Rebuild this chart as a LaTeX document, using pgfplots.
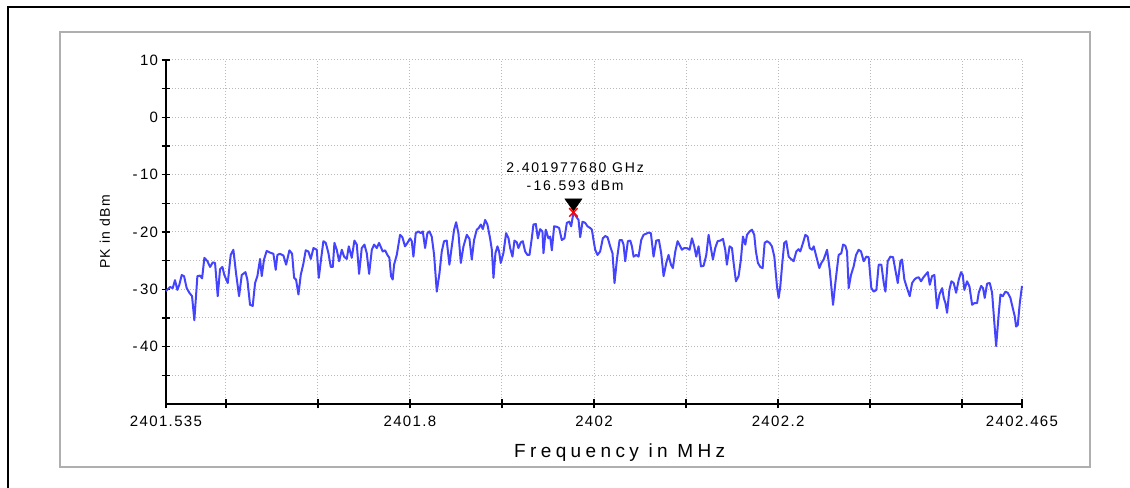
\documentclass[border=0pt]{standalone}
\usepackage{pgfplots}
\pgfplotsset{compat=1.18}
\usepackage{pgfplotstable}
\usepackage{fontspec}
\setmainfont{Liberation Sans}
\newfontfamily\tickfont{Liberation Sans}[LetterSpace=9]
\newfontfamily\labfont{Liberation Sans}[LetterSpace=23]
\newfontfamily\annfont{Liberation Sans}[LetterSpace=13]
\definecolor{tracec}{RGB}{68,68,255}
\definecolor{framegray}{RGB}{175,175,175}
\definecolor{gridgray}{RGB}{185,185,185}
\pgfdeclareplotmark{dtri}{%
  \pgfpathmoveto{\pgfpoint{-8.5bp}{13.5bp}}%
  \pgfpathlineto{\pgfpoint{8.5bp}{13.5bp}}%
  \pgfpathlineto{\pgfpoint{0bp}{1.5bp}}%
  \pgfpathclose\pgfusepathqfillstroke}

\pgfplotstableread{
f p
2401.5350 -30.3
2401.5394 -29.6
2401.5423 -29.8
2401.5448 -28.4
2401.5473 -30.1
2401.5495 -29.2
2401.5521 -27.5
2401.5546 -27.7
2401.5575 -29.8
2401.5604 -30.6
2401.5633 -31.2
2401.5658 -35.4
2401.5691 -27.7
2401.5720 -27.6
2401.5742 -28.1
2401.5767 -24.5
2401.5800 -25.1
2401.5829 -26.1
2401.5858 -25.3
2401.5883 -25.4
2401.5912 -31.2
2401.5937 -26.5
2401.5963 -26.1
2401.5984 -27.5
2401.6021 -28.9
2401.6053 -24.0
2401.6082 -23.1
2401.6111 -27.2
2401.6144 -31.2
2401.6173 -27.5
2401.6213 -27.0
2401.6234 -28.3
2401.6263 -32.7
2401.6292 -32.9
2401.6318 -28.9
2401.6343 -27.7
2401.6372 -24.7
2401.6390 -27.7
2401.6415 -24.8
2401.6444 -23.3
2401.6481 -23.6
2401.6517 -23.8
2401.6542 -26.6
2401.6560 -24.0
2401.6589 -23.8
2401.6626 -24.1
2401.6655 -25.7
2401.6691 -23.2
2401.6720 -23.8
2401.6742 -28.0
2401.6763 -28.3
2401.6789 -30.9
2401.6814 -27.5
2401.6843 -25.5
2401.6868 -23.2
2401.6897 -23.4
2401.6923 -24.7
2401.6952 -22.8
2401.6988 -23.1
2401.7010 -28.0
2401.7035 -24.7
2401.7060 -21.6
2401.7086 -21.9
2401.7115 -23.7
2401.7140 -26.1
2401.7162 -26.1
2401.7180 -21.9
2401.7205 -23.1
2401.7231 -25.1
2401.7260 -23.1
2401.7285 -24.3
2401.7314 -24.7
2401.7336 -22.5
2401.7368 -24.5
2401.7397 -21.5
2401.7423 -22.2
2401.7448 -27.3
2401.7477 -22.8
2401.7506 -22.2
2401.7531 -23.7
2401.7557 -27.3
2401.7586 -23.1
2401.7611 -22.2
2401.7640 -22.8
2401.7665 -21.9
2401.7705 -23.4
2401.7730 -23.2
2401.7755 -24.0
2401.7777 -24.5
2401.7795 -27.7
2401.7813 -28.3
2401.7828 -25.7
2401.7857 -24.0
2401.7893 -20.5
2401.7918 -20.9
2401.7947 -22.5
2401.7973 -21.9
2401.8002 -21.1
2401.8020 -21.6
2401.8038 -24.3
2401.8063 -20.2
2401.8092 -19.9
2401.8118 -20.2
2401.8140 -19.9
2401.8165 -22.8
2401.8190 -20.2
2401.8212 -19.9
2401.8237 -20.8
2401.8263 -24.0
2401.8292 -30.4
2401.8321 -27.2
2401.8346 -23.4
2401.8371 -21.6
2401.8400 -21.5
2401.8429 -25.7
2401.8455 -22.5
2401.8480 -19.6
2401.8502 -18.3
2401.8527 -20.2
2401.8553 -25.4
2401.8582 -22.5
2401.8618 -20.5
2401.8647 -21.2
2401.8672 -24.8
2401.8697 -21.4
2401.8726 -19.6
2401.8748 -19.3
2401.8770 -18.7
2401.8792 -19.5
2401.8817 -17.9
2401.8842 -18.7
2401.8871 -21.1
2401.8890 -23.1
2401.8908 -28.0
2401.8929 -23.7
2401.8951 -22.5
2401.8969 -23.4
2401.8987 -25.4
2401.9016 -23.7
2401.9045 -20.2
2401.9071 -21.1
2401.9089 -22.8
2401.9114 -24.3
2401.9136 -21.5
2401.9161 -21.8
2401.9179 -22.8
2401.9205 -21.8
2401.9226 -21.6
2401.9252 -23.4
2401.9277 -24.0
2401.9299 -24.0
2401.9324 -21.1
2401.9342 -18.7
2401.9368 -18.6
2401.9390 -21.1
2401.9415 -19.5
2401.9440 -19.9
2401.9451 -23.7
2401.9476 -19.6
2401.9505 -21.1
2401.9524 -20.8
2401.9542 -23.2
2401.9567 -19.0
2401.9596 -19.1
2401.9621 -19.3
2401.9650 -21.4
2401.9679 -21.1
2401.9705 -18.4
2401.9730 -18.2
2401.9752 -19.0
2401.97768 -16.593
2401.9806 -17.3
2401.9832 -17.9
2401.9850 -20.9
2401.9875 -18.2
2401.9904 -18.4
2401.9929 -19.0
2401.9958 -19.3
2401.9977 -19.6
2401.9995 -21.4
2402.0013 -23.1
2402.0038 -24.0
2402.0067 -23.4
2402.0096 -21.1
2402.0122 -20.7
2402.0147 -20.9
2402.0176 -22.5
2402.0201 -23.7
2402.0223 -28.9
2402.0249 -24.8
2402.0278 -21.4
2402.0303 -21.4
2402.0321 -22.2
2402.0339 -25.1
2402.0368 -21.6
2402.0394 -21.5
2402.0412 -22.5
2402.0430 -24.3
2402.0459 -24.0
2402.0484 -24.3
2402.0513 -21.4
2402.0538 -20.5
2402.0567 -20.3
2402.0593 -20.1
2402.0618 -20.2
2402.0647 -24.3
2402.0676 -21.5
2402.0705 -21.4
2402.0730 -23.7
2402.0756 -27.7
2402.0785 -25.4
2402.0810 -24.0
2402.0836 -25.7
2402.0857 -26.3
2402.0883 -23.4
2402.0908 -21.6
2402.0937 -22.5
2402.0955 -23.1
2402.0980 -22.8
2402.1009 -22.8
2402.1038 -23.1
2402.1064 -21.1
2402.1089 -22.5
2402.1111 -24.3
2402.1136 -22.5
2402.1162 -26.0
2402.1191 -25.9
2402.1220 -24.0
2402.1245 -20.5
2402.1270 -22.8
2402.1292 -24.8
2402.1317 -22.8
2402.1343 -21.6
2402.1372 -21.5
2402.1401 -21.2
2402.1426 -23.1
2402.1444 -25.7
2402.1473 -22.5
2402.1499 -22.8
2402.1517 -25.4
2402.1542 -28.6
2402.1571 -27.7
2402.1596 -24.8
2402.1618 -20.8
2402.1644 -22.2
2402.1662 -20.5
2402.1691 -19.9
2402.1716 -19.6
2402.1741 -20.5
2402.1759 -23.4
2402.1781 -25.4
2402.1807 -26.1
2402.1832 -26.3
2402.1854 -21.9
2402.1879 -21.6
2402.1908 -21.9
2402.1933 -22.5
2402.1959 -24.3
2402.1988 -29.5
2402.2006 -31.5
2402.2024 -29.5
2402.2046 -25.4
2402.2067 -21.9
2402.2089 -21.6
2402.2115 -24.3
2402.2140 -24.7
2402.2169 -25.1
2402.2198 -23.4
2402.2223 -23.0
2402.2241 -23.4
2402.2271 -21.9
2402.2296 -20.5
2402.2321 -20.8
2402.2343 -22.8
2402.2369 -23.1
2402.2387 -22.5
2402.2416 -24.3
2402.2448 -26.3
2402.2470 -25.4
2402.2495 -24.8
2402.2532 -23.1
2402.2561 -26.6
2402.2597 -32.7
2402.2622 -28.9
2402.2658 -24.0
2402.2687 -23.7
2402.2706 -22.2
2402.2731 -22.4
2402.2749 -23.4
2402.2767 -29.8
2402.2792 -27.5
2402.2821 -26.0
2402.2847 -24.0
2402.2876 -23.1
2402.2901 -23.4
2402.2930 -25.1
2402.2959 -24.3
2402.2984 -24.4
2402.3013 -29.8
2402.3039 -30.4
2402.3068 -30.1
2402.3093 -25.7
2402.3122 -25.7
2402.3148 -28.9
2402.3166 -30.4
2402.3191 -25.1
2402.3220 -24.3
2402.3249 -24.4
2402.3274 -26.6
2402.3300 -28.9
2402.3329 -25.1
2402.3347 -24.8
2402.3372 -28.3
2402.3401 -29.8
2402.3430 -31.2
2402.3456 -28.9
2402.3481 -28.3
2402.3503 -28.0
2402.3528 -27.9
2402.3553 -28.6
2402.3575 -28.0
2402.3600 -27.5
2402.3626 -27.0
2402.3648 -29.2
2402.3673 -27.7
2402.3698 -27.5
2402.3727 -33.3
2402.3753 -30.9
2402.3782 -29.8
2402.3800 -31.5
2402.3818 -32.4
2402.3836 -34.1
2402.3861 -30.1
2402.3883 -28.6
2402.3908 -28.9
2402.3934 -30.6
2402.3963 -28.3
2402.3988 -27.0
2402.4006 -27.5
2402.4024 -30.1
2402.4053 -28.6
2402.4079 -29.5
2402.4108 -32.7
2402.4133 -32.4
2402.4162 -32.4
2402.4180 -30.6
2402.4206 -29.4
2402.4227 -29.8
2402.4245 -31.5
2402.4271 -29.0
2402.4300 -28.9
2402.4325 -30.6
2402.4350 -35.9
2402.4369 -39.9
2402.4398 -34.1
2402.4416 -30.9
2402.4441 -31.2
2402.4470 -30.4
2402.4495 -30.6
2402.4524 -31.5
2402.4550 -33.3
2402.4571 -34.7
2402.4586 -36.5
2402.4604 -36.2
2402.4626 -32.4
2402.4650 -29.4
}\trace

\begin{document}
\begin{tikzpicture}[x=1bp,y=1bp]
\path[use as bounding box] (0,0) rectangle (1130,488);
% outer frame (black, top and left)
\draw[black, line width=1.6bp] (8,0) -- (8,481) -- (1131,481);
% inner gray frame
\draw[framegray, line width=1.6bp] (60,21) rectangle (1090,456);
\begin{axis}[
  at={(166bp,84bp)}, anchor=south west,
  scale only axis, width=856bp, height=344bp,
  xmin=2401.535, xmax=2402.465, ymin=-50, ymax=10,
  axis x line*=bottom, axis y line*=left,
  axis line style={-, black, line width=1.8bp},
  xtick={2401.535,2401.6,2401.7,2401.8,2401.9,2402,2402.1,2402.2,2402.3,2402.4,2402.465},
  xticklabels={2401.535,,,2401.8,,2402,,2402.2,,,2402.465},
  ytick={-45,-40,-35,-30,-25,-20,-15,-10,-5,0,5,10},
  yticklabels={,-\,40,,-\,30,,-\,20,,-\,10,,0,,10},
  tick align=center, major tick length=9bp,
  tick style={black, line width=1.5bp},
  xticklabel style={font=\tickfont\fontsize{15bp}{17bp}\selectfont, yshift=-4bp},
  yticklabel style={font=\tickfont\fontsize{15bp}{17bp}\selectfont},
  grid=major,
  major grid style={gridgray, line width=1bp, dash pattern=on 1.3bp off 1.7bp},
  xlabel={Frequency in MHz},
  xlabel style={font=\labfont\fontsize{19bp}{21bp}\selectfont, at={(axis description cs:0.53,0)}, anchor=center, yshift=-49bp},
  ylabel={PK in dBm},
  ylabel style={font=\tickfont\fontsize{14bp}{16bp}\selectfont, at={(axis description cs:-0.0713,0.5)}, anchor=center, rotate=0},
  clip=false,
]
\addplot[tracec, line width=2bp, line join=round, no markers] table[x=f,y=p] {\trace};
\addplot[only marks, mark=dtri, mark options={fill=black, draw=black, line width=0.5bp}] coordinates {(2401.97768,-16.593)};
\addplot[only marks, mark=x, mark size=6bp, mark options={red, line width=1.5bp}] coordinates {(2401.97768,-16.593)};
\node[font=\annfont\fontsize{14bp}{18bp}\selectfont, align=center] at (axis cs:2401.9795,-10.4) {2.401977680 GHz\\-\,16.593 dBm};
\end{axis}
\end{tikzpicture}
\end{document}
